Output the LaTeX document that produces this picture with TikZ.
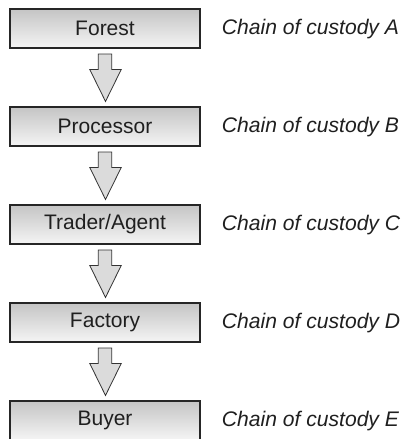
\documentclass[tikz,border=0pt]{standalone}
\usepackage{fontspec}
\setmainfont{Liberation Sans}
\usetikzlibrary{calc}
\begin{document}
\begin{tikzpicture}[x=1bp,y=-1bp,
  stage/.style={minimum width=190bp, minimum height=39bp, inner sep=0pt,
    top color=black!23, bottom color=black!4, draw=black!85, line width=1.1bp,
    preaction={draw=black!35, line width=2.8bp},
    font=\fontsize{21bp}{24bp}\selectfont, text=black!88},
  custody/.style={anchor=base west, inner sep=0pt,
    font=\fontsize{21.1bp}{24bp}\selectfont\itshape, text=black!88},
  flow/.style={fill=black!14, draw=black!80, line width=0.8bp, line join=miter}]
  \useasboundingbox (0,0) rectangle (403,439);

  % stages of the supply chain
  \foreach \name/\txt [count=\i from 0] in {n1/Forest, n2/Processor, n3/Trader\slash Agent, n4/Factory, n5/Buyer}{
    \node[stage] (\name) at (105, 28.5+98*\i) {\txt};
  }

  % chain of custody labels
  \foreach \name/\letter in {n1/A, n2/B, n3/C, n4/D, n5/E}{
    \node[custody] (\name lbl) at ($(\name.north)+(116.7,26.5)$) {Chain of custody \letter};
  }

  % block arrows between consecutive stages
  \foreach \a/\b in {n1/n2, n2/n3, n3/n4, n4/n5}{
    \draw[flow] ($(\a.south)+(-6.7,5.5)$) -- ($(\a.south)+(6.7,5.5)$)
      -- ($(\a.south)+(6.7,21)$) -- ($(\a.south)+(16.2,21)$)
      -- ($(\b.north)+(0.5,-5)$)
      -- ($(\a.south)+(-15.2,21)$) -- ($(\a.south)+(-6.7,21)$) -- cycle;
  }
\end{tikzpicture}
\end{document}
